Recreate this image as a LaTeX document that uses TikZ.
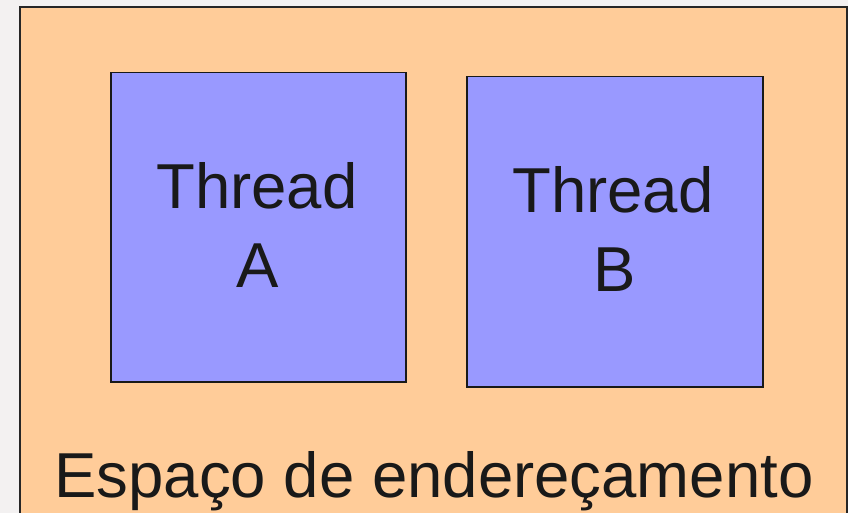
\documentclass[tikz,border=0pt]{standalone}
\usepackage{fontspec}
\setmainfont{Liberation Sans}
\begin{document}
\begin{tikzpicture}[x=1pt,y=-1pt,
  threadbox/.style={draw=black!90,line width=1.5pt,fill=threadblue,inner sep=0pt,anchor=north west},
  bigtext/.style={font=\fontsize{63.5}{79}\selectfont,text=black!90,inner sep=0pt,anchor=base}]
\definecolor{threadblue}{HTML}{9999FF}
\definecolor{spaceorange}{HTML}{FFCC99}
\definecolor{bggray}{HTML}{F3F1F1}
\useasboundingbox (0,0) rectangle (848,513);
\fill[bggray] (0,0) rectangle (848,513);
\begin{scope}
\clip (0,0) rectangle (848,513);
\draw[draw=black!85,line width=1.2pt,fill=spaceorange] (20,7) rectangle (847,530);
\end{scope}
% shadows
\fill[black!40] (112,74) rectangle (407,383);
\fill[black!40] (468,78) rectangle (764,388);
\node[threadbox,minimum width=295pt,minimum height=309pt] (ta) at (110,72) {};
\node[threadbox,minimum width=296pt,minimum height=310pt] (tb) at (466,76) {};
\node[bigtext] (la1) at (257,208.3) {Thread};
\node[bigtext] (la2) at (258,287.3) {A};
\node[bigtext] (lb1) at (613,212.3) {Thread};
\node[bigtext] (lb2) at (615,291.7) {B};
\node[bigtext] (ls) at (434,497.3) {Espaço de endereçamento};
\end{tikzpicture}
\end{document}
